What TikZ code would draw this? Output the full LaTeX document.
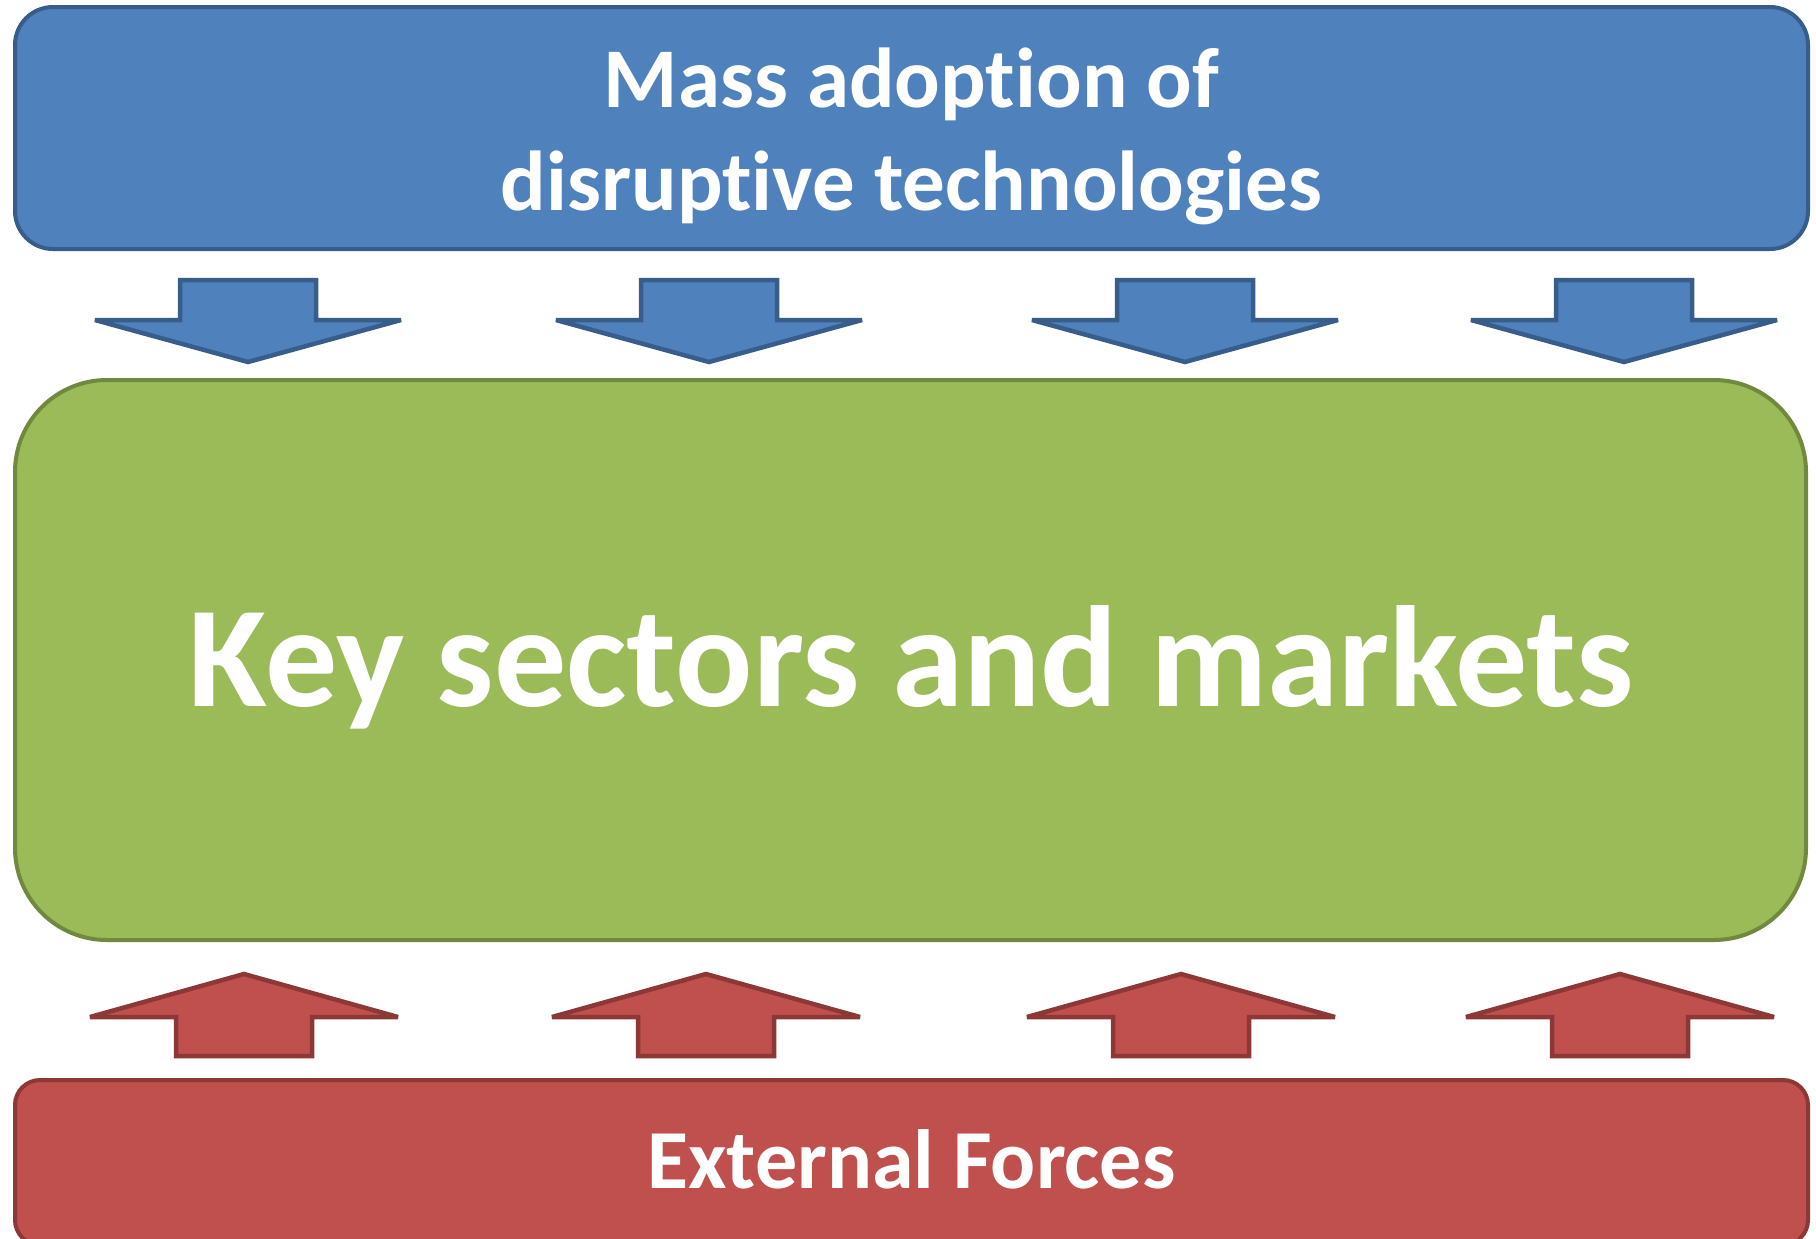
\documentclass[tikz,border=0pt]{standalone}
\usepackage{fontspec}
\setmainfont{Carlito}[Ligatures={NoCommon,NoRare,NoContextual}]
\definecolor{techfill}{HTML}{4F81BD}
\definecolor{techline}{HTML}{385D8A}
\definecolor{marketfill}{HTML}{9BBB59}
\definecolor{marketline}{HTML}{71893F}
\definecolor{forcefill}{HTML}{C0504D}
\definecolor{forceline}{HTML}{8C3836}
\begin{document}
\begin{tikzpicture}[x=0.5pt,y=-0.5pt,
    panel/.style={draw,line width=2pt,inner sep=0pt},
    techpanel/.style={panel,fill=techfill,draw=techline,rounded corners=19pt},
    marketpanel/.style={panel,fill=marketfill,draw=marketline,rounded corners=46pt},
    forcepanel/.style={panel,fill=forcefill,draw=forceline,rounded corners=12.5pt},
    paneltext/.style={text=white,font=\bfseries\fontsize{42.5}{51.5}\selectfont,align=center,inner sep=0pt},
    blockarrow/.style={line width=2.25pt,miter limit=2}]
  \useasboundingbox (0,0) rectangle (1816,1238);
  % the three panels
  \node[techpanel,minimum width=896.5pt,minimum height=121pt] (tech) at (911.5,128) {};
  \node[marketpanel,minimum width=895.5pt,minimum height=280pt] (markets) at (910.5,660) {};
  \node[forcepanel,minimum width=896.5pt,minimum height=82.5pt] (forces) at (911.5,1162.5) {};
  \node[paneltext] (techtext) at (911.5,136) {Mass adoption of\\disruptive technologies};
  \node[paneltext,font=\bfseries\fontsize{72}{86}\selectfont,anchor=base] (marketstext) at (911.5,706) {Key sectors and markets};
  \node[paneltext,font=\bfseries\fontsize{42}{51}\selectfont,anchor=base] (forcestext) at (911.5,1188) {External Forces};
  % arrows down from the technologies
  \foreach \x in {248,709,1185,1624}
    \draw[blockarrow,fill=techfill,draw=techline]
      (\x-68,280) -- (\x+68,280) -- (\x+68,320) -- (\x+153,320) -- (\x,362)
      -- (\x-153,320) -- (\x-68,320) -- cycle;
  % arrows up from the external forces
  \foreach \x in {244,706,1181,1620}
    \draw[blockarrow,fill=forcefill,draw=forceline]
      (\x-68,1056) -- (\x+68,1056) -- (\x+68,1017) -- (\x+154,1017) -- (\x,974)
      -- (\x-154,1017) -- (\x-68,1017) -- cycle;
\end{tikzpicture}
\end{document}
